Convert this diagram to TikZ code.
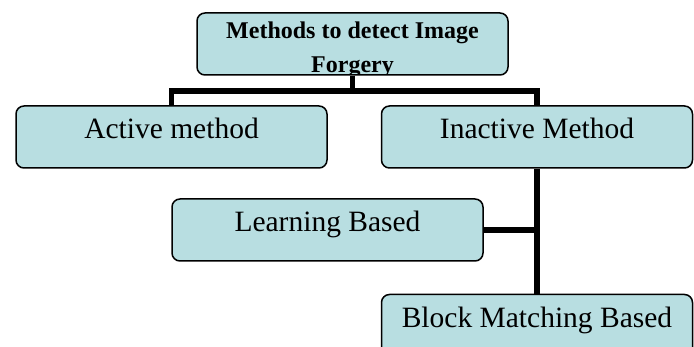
\documentclass[tikz,border=0pt]{standalone}
\usepackage{fontspec}
\setmainfont{Liberation Serif}
\usetikzlibrary{positioning,calc}
\definecolor{boxfill}{RGB}{184,222,225}

\begin{document}
\begin{tikzpicture}[x=1pt,y=-1pt,
  box/.style={draw,rounded corners=8pt,line width=1.5pt,fill=boxfill,
    minimum width=311pt,minimum height=62pt,inner sep=0pt},
  leaf/.style={box,font=\fontsize{29.5}{31}\selectfont,
    text height=22pt,text depth=18pt},
  link/.style={line width=5.5pt}
  ]
  \path[use as bounding box,clip] (0,0) rectangle (694,347);

  % root, its text is cut off by the box
  \node[box,path picture={\node[anchor=north,align=center,inner sep=0pt,
      font=\bfseries\fontsize{24}{34}\selectfont]
      at ([yshift=-5.5pt]path picture bounding box.north)
      {Methods to detect Image\\Forgery};}] (methods) at (352.5,44) {};
  \node[leaf] (active) at (171.5,137) {Active method};
  \node[leaf,right=53pt of active] (inactive) {Inactive Method};
  \node[leaf] (learning) at (327.5,230) {Learning Based};
  \node[leaf,below=125pt of inactive] (block) {Block Matching Based};

  \draw[link] (methods.south) -- ++(0,15.5) -| (active.north);
  \draw[link] (methods.south) -- ++(0,15.5) -| (inactive.north);
  \draw[link] (inactive.south) -- (block.north);
  \draw[link] (learning.east) -- (learning.east -| inactive.south);
\end{tikzpicture}
\end{document}
